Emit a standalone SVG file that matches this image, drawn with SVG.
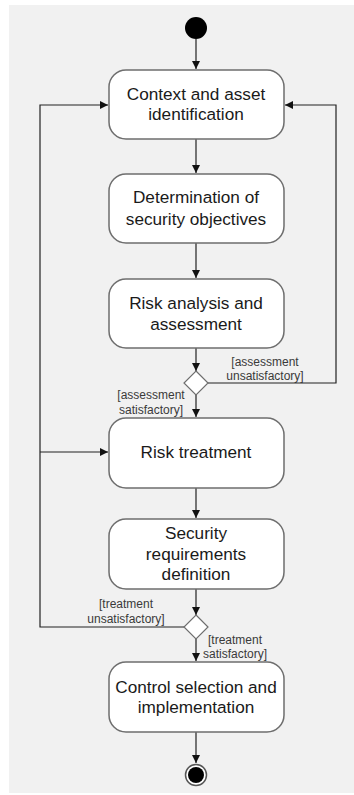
<svg xmlns="http://www.w3.org/2000/svg" width="354" height="795" viewBox="0 0 354 795">
  <style>
    .node { fill: #ffffff; stroke: #6e6e6e; stroke-width: 1.5; }
    .lbl { font-family: "Liberation Sans", Arial, sans-serif; font-size: 17.2px; fill: #1a1a1a; text-anchor: middle; }
    .guard { font-family: "Liberation Sans", Arial, sans-serif; font-size: 12px; fill: #3a3a3a; text-anchor: middle; }
    .edge { fill: none; stroke: #222222; stroke-width: 1.2; }
  </style>
  <defs>
    <marker id="arrow" viewBox="0 0 10 10" refX="10" refY="5" markerWidth="8" markerHeight="8" markerUnits="userSpaceOnUse" orient="auto">
      <path d="M0,0 L10,5 L0,10 z" fill="#111111"/>
    </marker>
  </defs>

  <rect x="9" y="5" width="345" height="788" fill="#f1f1f1"/>

  <g id="connectors">
    <path class="edge" d="M196,39 V69" marker-end="url(#arrow)"/>
    <path class="edge" d="M196,139 V173" marker-end="url(#arrow)"/>
    <path class="edge" d="M196,243 V278" marker-end="url(#arrow)"/>
    <path class="edge" d="M196,348 V371" marker-end="url(#arrow)"/>
    <path class="edge" d="M208,383 H336 V105 H285" marker-end="url(#arrow)"/>
    <path class="edge" d="M196,395 V417" marker-end="url(#arrow)"/>
    <path class="edge" d="M196,488 V518" marker-end="url(#arrow)"/>
    <path class="edge" d="M196,589 V615" marker-end="url(#arrow)"/>
    <path class="edge" d="M184,627 H40 V105 H108" marker-end="url(#arrow)"/>
    <path class="edge" d="M40,452 H108" marker-end="url(#arrow)"/>
    <path class="edge" d="M196,639 V661" marker-end="url(#arrow)"/>
    <path class="edge" d="M196,732 V763" marker-end="url(#arrow)"/>
    <text class="guard" x="265" y="366">[assessment</text>
    <text class="guard" x="265" y="380">unsatisfactory]</text>
    <text class="guard" x="151" y="399">[assessment</text>
    <text class="guard" x="151" y="414">satisfactory]</text>
    <text class="guard" x="126" y="608">[treatment</text>
    <text class="guard" x="126" y="623">unsatisfactory]</text>
    <text class="guard" x="235" y="644">[treatment</text>
    <text class="guard" x="235" y="658">satisfactory]</text>
  </g>

  <g id="start">
    <circle cx="196" cy="28" r="11" fill="#000000"/>
  </g>

  <g id="context">
    <rect class="node" x="109" y="70" width="175" height="69" rx="17"/>
    <text class="lbl" x="196" y="100">Context and asset</text>
    <text class="lbl" x="196" y="120">identification</text>
  </g>

  <g id="objectives">
    <rect class="node" x="109" y="174" width="175" height="69" rx="17"/>
    <text class="lbl" x="196" y="203">Determination of</text>
    <text class="lbl" x="196" y="225">security objectives</text>
  </g>

  <g id="analysis">
    <rect class="node" x="109" y="279" width="175" height="69" rx="17"/>
    <text class="lbl" x="196" y="309">Risk analysis and</text>
    <text class="lbl" x="196" y="330">assessment</text>
  </g>

  <g id="decision1">
    <polygon points="196,371 208,383 196,395 184,383" fill="#ffffff" stroke="#6e6e6e" stroke-width="1.2"/>
  </g>

  <g id="treatment">
    <rect class="node" x="109" y="418" width="175" height="70" rx="17"/>
    <text class="lbl" x="196" y="458">Risk treatment</text>
  </g>

  <g id="requirements">
    <rect class="node" x="109" y="519" width="175" height="70" rx="17"/>
    <text class="lbl" x="196" y="539">Security</text>
    <text class="lbl" x="196" y="560">requirements</text>
    <text class="lbl" x="196" y="580">definition</text>
  </g>

  <g id="decision2">
    <polygon points="196,615 208,627 196,639 184,627" fill="#ffffff" stroke="#6e6e6e" stroke-width="1.2"/>
  </g>

  <g id="control">
    <rect class="node" x="109" y="662" width="175" height="70" rx="17"/>
    <text class="lbl" x="196" y="693">Control selection and</text>
    <text class="lbl" x="196" y="713">implementation</text>
  </g>

  <g id="end">
    <circle cx="196" cy="775" r="10.5" fill="#ffffff" stroke="#555555" stroke-width="1.5"/>
    <circle cx="196" cy="775" r="8" fill="#000000"/>
  </g>
</svg>
